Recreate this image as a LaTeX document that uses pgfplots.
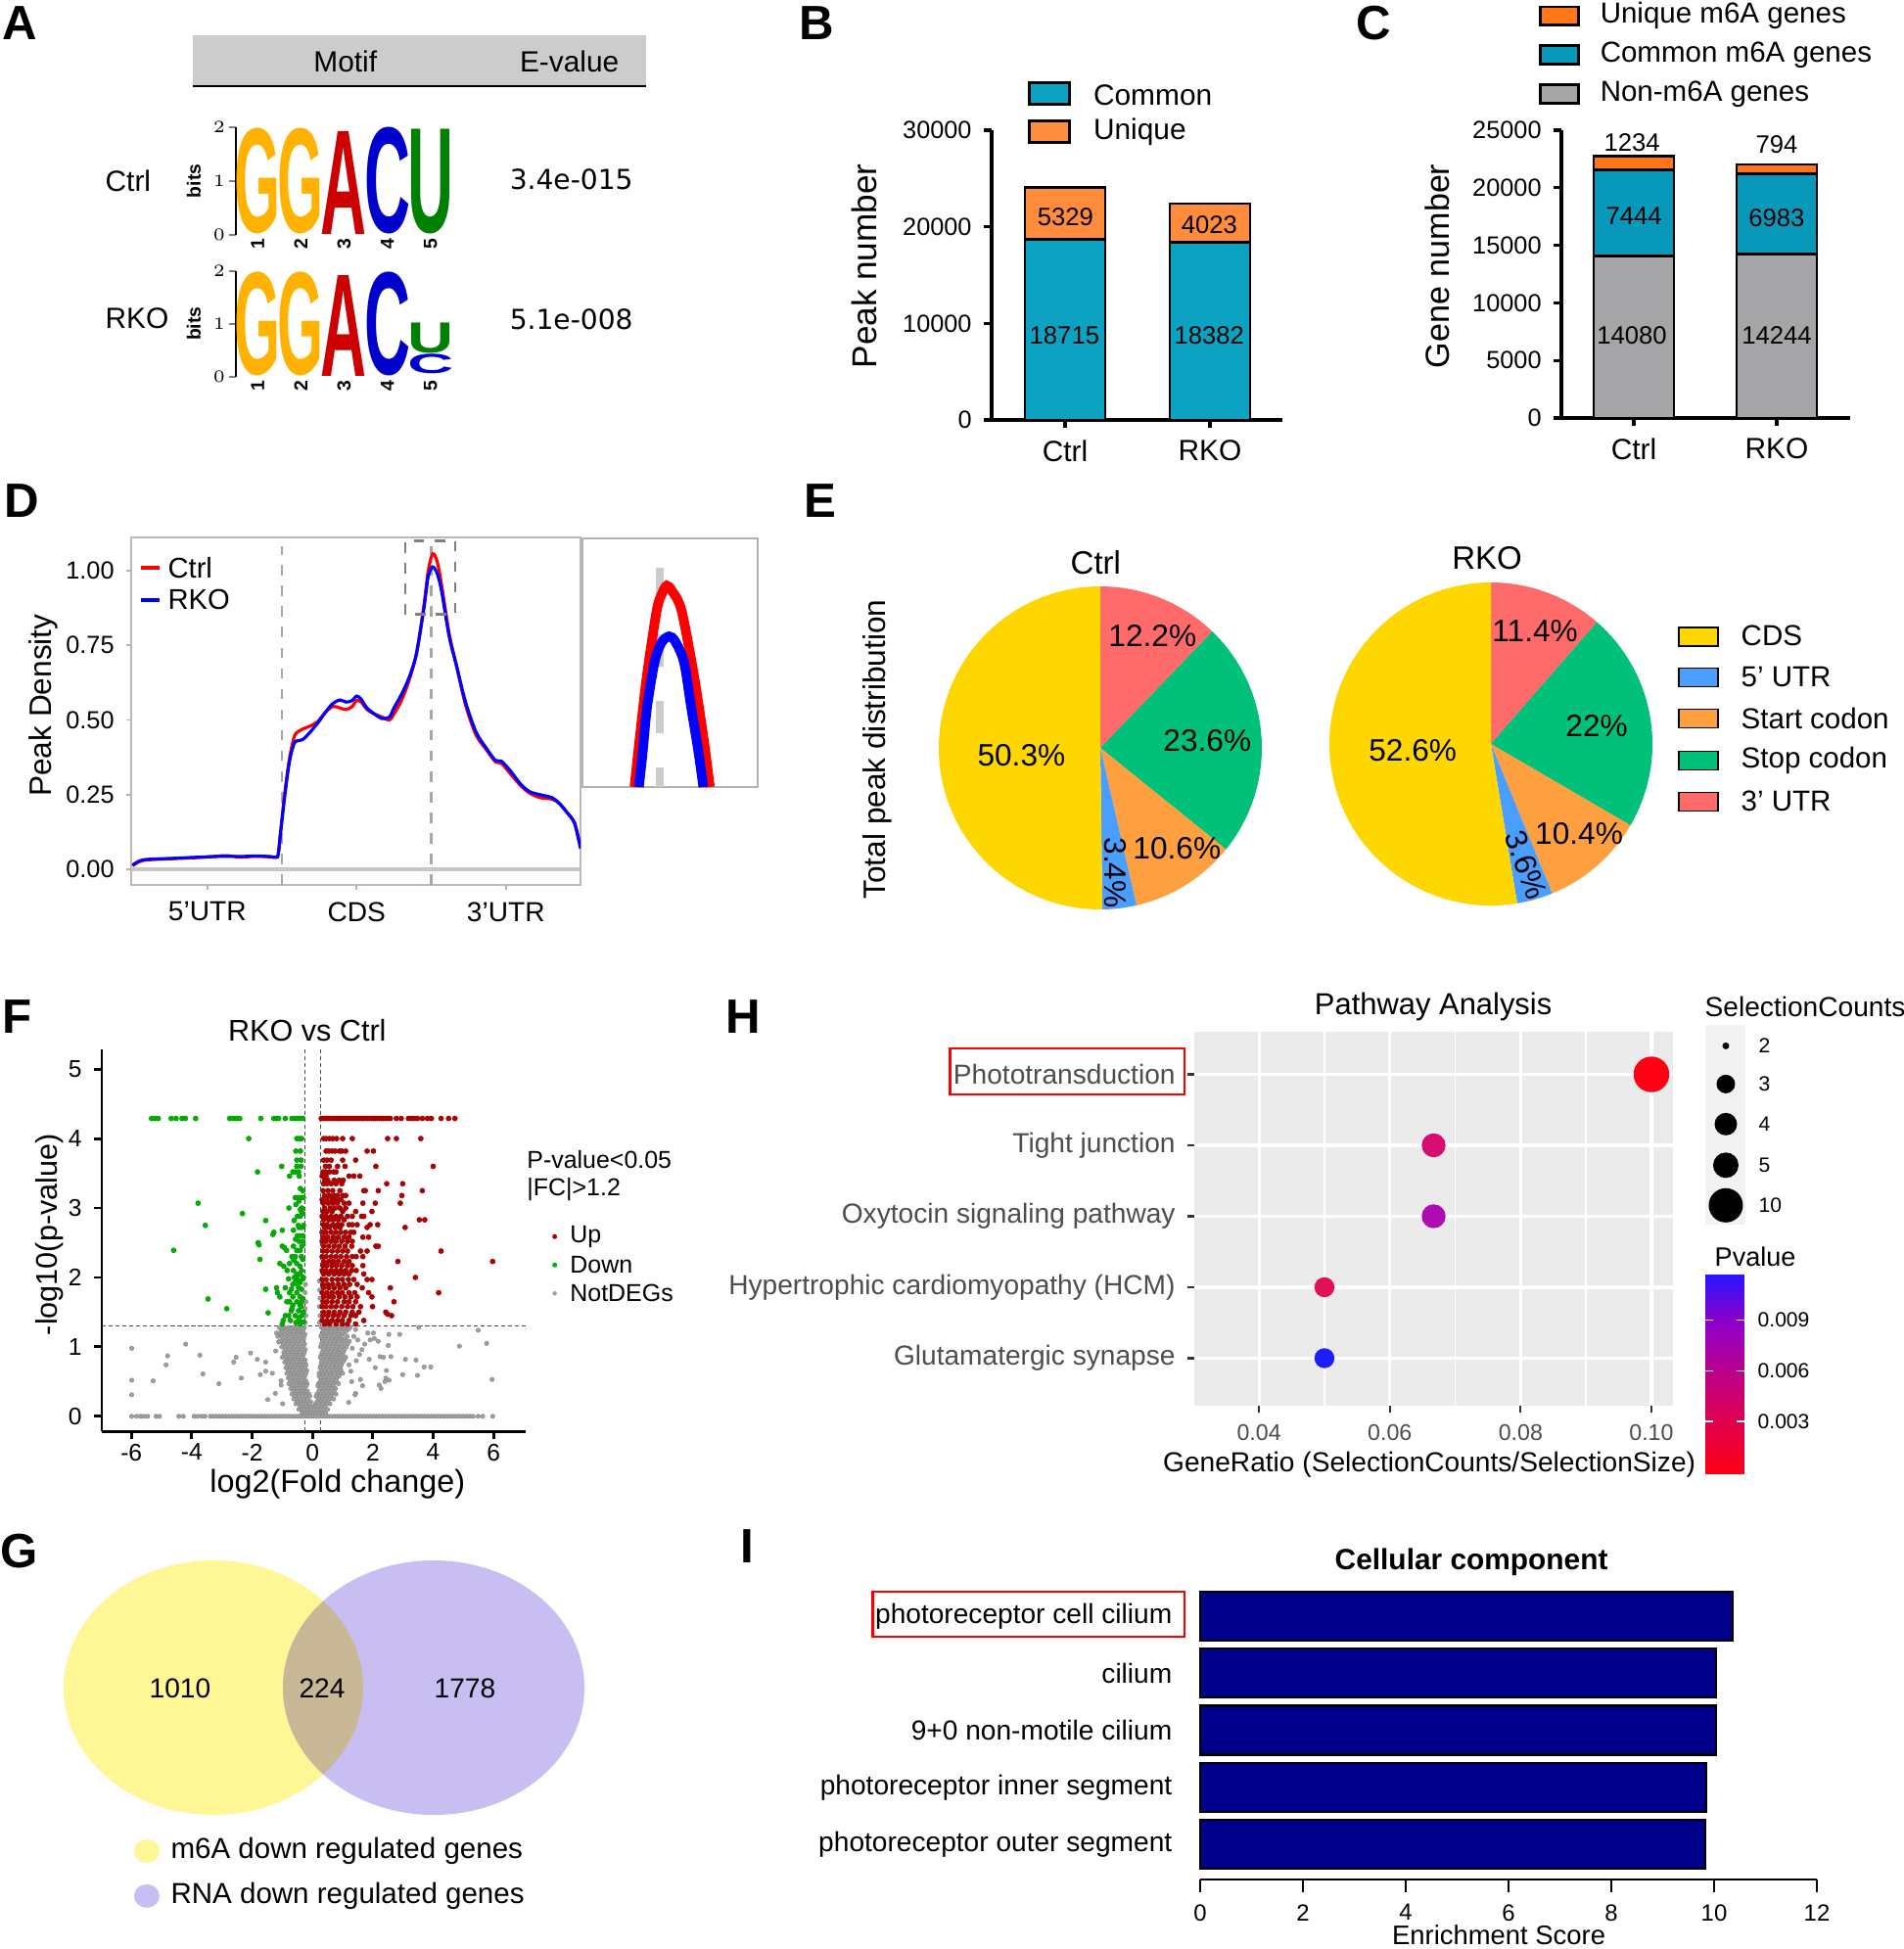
\documentclass[border=0pt]{standalone}
\usepackage{graphicx}
\usepackage{fontspec}
\setmainfont{Liberation Sans}
\newfontfamily\dejavu{DejaVu Sans}
\usepackage{pgfplots}
\pgfplotsset{compat=1.18}
\newcommand{\fs}[1]{\fontsize{#1}{#1}\selectfont}
\definecolor{cB}{RGB}{11,163,193}
\definecolor{uB}{RGB}{255,139,61}
\definecolor{uC}{RGB}{255,117,24}
\definecolor{cC}{RGB}{8,153,186}
\definecolor{nC}{RGB}{165,165,168}
\definecolor{lgG}{RGB}{255,179,0}
\definecolor{lgA}{RGB}{204,0,0}
\definecolor{lgC}{RGB}{0,0,204}
\definecolor{lgU}{RGB}{0,128,0}
\definecolor{pCDS}{RGB}{255,215,0}
\definecolor{pFive}{RGB}{74,158,255}
\definecolor{pStart}{RGB}{255,160,64}
\definecolor{pStop}{RGB}{0,192,122}
\definecolor{pThree}{RGB}{255,107,107}
\definecolor{upc}{RGB}{179,0,0}
\definecolor{dnc}{RGB}{0,179,0}
\definecolor{ngc}{RGB}{160,160,160}
\definecolor{vY}{RGB}{255,246,150}
\definecolor{vP}{RGB}{200,190,242}
\definecolor{vO}{RGB}{200,184,150}
\definecolor{hbg}{RGB}{235,235,235}
\definecolor{navyI}{RGB}{0,0,139}
\definecolor{gthirty}{RGB}{77,77,77}
\definecolor{hPh}{RGB}{255,0,20}
\definecolor{hTi}{RGB}{214,12,112}
\definecolor{hOx}{RGB}{176,10,178}
\definecolor{hHC}{RGB}{226,14,88}
\definecolor{hGl}{RGB}{28,28,255}
\pgfdeclareverticalshading{pvshade}{100bp}{rgb(0bp)=(1,0,0.08); rgb(25bp)=(1,0,0.08); rgb(38bp)=(0.88,0,0.30); rgb(51bp)=(0.73,0,0.55); rgb(63.5bp)=(0.55,0,0.80); rgb(75bp)=(0.16,0.08,1); rgb(100bp)=(0.16,0.08,1)}
\newcommand{\slice}[3]{\fill[#1] (axis cs:0,0) -- (axis cs:{cos(90-3.6*(#2))},{sin(90-3.6*(#2))}) arc[start angle={90-3.6*(#2)}, end angle={90-3.6*(#3)}, radius=1.65cm] -- cycle;}
\newcommand{\lt}[5]{\node[inner sep=0pt, anchor=south] at (axis cs:#1,#2) {\resizebox*{0.47cm}{#3}{\textcolor{#4}{\bfseries #5}}};}
\pgfplotsset{logo/.style={anchor=south west, scale only axis, width=2.21cm, xmin=0.5, xmax=5.5, ymin=0, ymax=2,
  axis y line=left, axis x line=none, axis line style={-, line width=0.5pt}, ytick={0,1,2}, tick align=outside,
  major tick length=0.07cm, tick style={line width=0.5pt}, yticklabel style={font=\fs{5.5pt}\bfseries, inner sep=1pt}, clip=false}}
\begin{document}
\begin{tikzpicture}
\begin{scope}[x=0.01cm,y=-0.01cm]
\fill[white] (0,0) rectangle (1944,1991);
\end{scope}

% ================= A =================
\begin{axis}[logo, at={(2.41cm,-2.40cm)}, height=1.10cm]
\lt{1}{0}{1.08cm}{lgG}{G}
\lt{2}{0}{1.08cm}{lgG}{G}
\lt{3}{0}{1.05cm}{lgA}{A}
\lt{4}{0}{1.09cm}{lgC}{C}
\lt{5}{0}{1.07cm}{lgU}{U}
\pgfplotsinvokeforeach{1,...,5}{\node[rotate=90, anchor=east, font=\fs{5.5pt}\bfseries, inner sep=1pt] at (axis cs:#1,0) {#1};}
\end{axis}
\begin{axis}[logo, at={(2.41cm,-3.85cm)}, height=1.08cm]
\lt{1}{0}{1.06cm}{lgG}{G}
\lt{2}{0}{1.06cm}{lgG}{G}
\lt{3}{0}{1.03cm}{lgA}{A}
\lt{4}{0}{1.06cm}{lgC}{C}
\lt{5}{0.04}{0.20cm}{lgC}{C}
\lt{5}{0.43}{0.31cm}{lgU}{U}
\pgfplotsinvokeforeach{1,...,5}{\node[rotate=90, anchor=east, font=\fs{5.5pt}\bfseries, inner sep=1pt] at (axis cs:#1,0) {#1};}
\end{axis}

% ================= B =================
\begin{axis}[at={(10.13cm,-4.29cm)}, anchor=south west, scale only axis, width=2.97cm, height=2.96cm,
  xmin=-0.507, xmax=1.5, ymin=0, ymax=30000, ybar stacked, bar width=0.82cm,
  axis lines=left, axis line style={-, line width=0.9pt}, xtick={0,1}, xticklabels={Ctrl,RKO},
  ytick={0,10000,20000,30000}, tick align=outside, major tick length=0.08cm, tick style={line width=0.9pt, black},
  scaled y ticks=false, /pgf/number format/1000 sep={}, /pgf/number format/assume math mode=true,
  yticklabel style={font=\fs{7.2pt}}, xticklabel style={font=\fs{8.5pt}}, clip=false]
\addplot[fill=cB, draw=black, line width=0.8pt] coordinates {(0,18715) (1,18382)};
\addplot[fill=uB, draw=black, line width=0.8pt] coordinates {(0,5329) (1,4023)};
\end{axis}

% ================= C =================
\begin{axis}[at={(15.95cm,-4.27cm)}, anchor=south west, scale only axis, width=2.95cm, height=2.94cm,
  xmin=-0.507, xmax=1.514, ymin=0, ymax=25000, ybar stacked, bar width=0.82cm,
  axis lines=left, axis line style={-, line width=0.9pt}, xtick={0,1}, xticklabels={Ctrl,RKO},
  ytick={0,5000,10000,15000,20000,25000}, tick align=outside, major tick length=0.08cm, tick style={line width=0.9pt, black},
  scaled y ticks=false, /pgf/number format/1000 sep={}, /pgf/number format/assume math mode=true,
  yticklabel style={font=\fs{7.2pt}}, xticklabel style={font=\fs{8.5pt}}, clip=false]
\addplot[fill=nC, draw=black, line width=0.8pt] coordinates {(0,14080) (1,14244)};
\addplot[fill=cC, draw=black, line width=0.8pt] coordinates {(0,7444) (1,6983)};
\addplot[fill=uC, draw=black, line width=0.8pt] coordinates {(0,1234) (1,794)};
\end{axis}

% ================= D =================
\begin{axis}[at={(1.34cm,-9.04cm)}, anchor=south west, scale only axis, width=4.59cm, height=3.55cm,
  xmin=-0.01, xmax=3.0, ymin=-0.052, ymax=1.111, axis line style={gray!55, line width=0.6pt},
  xtick={0.5,1.5,2.5}, xticklabels={5’UTR,CDS,3’UTR}, ytick={0,0.25,0.5,0.75,1},
  xtick pos=left, ytick pos=left, tick align=outside, major tick length=0.05cm, tick style={gray!60, line width=0.5pt},
  /pgf/number format/assume math mode=true,
  yticklabel style={font=\fs{7.2pt}, /pgf/number format/fixed, /pgf/number format/fixed zerofill, /pgf/number format/precision=2},
  xticklabel style={font=\fs{8pt}}]
\addplot[gray!45, line width=1pt] coordinates {(-0.01,0) (3.0,0)};
\addplot[gray!70, dashed, line width=0.6pt] coordinates {(1,-0.052) (1,1.08)};
\addplot[gray!70, dashed, line width=0.6pt] coordinates {(2,-0.052) (2,1.08)};
\addplot[red, line width=0.9pt, smooth] coordinates {(0,0.012) (0.07,0.030) (0.27,0.036) (0.45,0.040) (0.62,0.046) (0.72,0.041) (0.82,0.044) (0.92,0.042) (0.96,0.040) (0.975,0.05) (0.99,0.12) (1.02,0.26) (1.05,0.37) (1.08,0.44) (1.10,0.458) (1.14,0.47) (1.19,0.48) (1.24,0.495) (1.29,0.525) (1.34,0.545) (1.39,0.54) (1.43,0.535) (1.47,0.545) (1.50,0.565) (1.53,0.56) (1.57,0.535) (1.62,0.52) (1.67,0.51) (1.72,0.50) (1.75,0.52) (1.80,0.565) (1.85,0.63) (1.90,0.72) (1.95,0.88) (1.98,1.00) (2.01,1.056) (2.04,1.03) (2.07,0.95) (2.12,0.79) (2.17,0.68) (2.23,0.55) (2.30,0.45) (2.37,0.40) (2.43,0.36) (2.47,0.355) (2.53,0.32) (2.60,0.28) (2.66,0.255) (2.73,0.24) (2.81,0.235) (2.86,0.22) (2.91,0.19) (2.96,0.155) (3.0,0.075)};
\addplot[blue, line width=0.9pt, smooth] coordinates {(0,0.014) (0.07,0.032) (0.27,0.037) (0.45,0.041) (0.62,0.044) (0.72,0.043) (0.82,0.045) (0.92,0.043) (0.96,0.041) (0.975,0.05) (0.99,0.12) (1.02,0.25) (1.05,0.36) (1.08,0.42) (1.10,0.43) (1.14,0.435) (1.19,0.46) (1.24,0.49) (1.29,0.525) (1.34,0.555) (1.39,0.567) (1.43,0.56) (1.47,0.565) (1.50,0.58) (1.53,0.57) (1.57,0.54) (1.62,0.52) (1.67,0.505) (1.72,0.51) (1.75,0.54) (1.80,0.585) (1.85,0.64) (1.90,0.72) (1.95,0.87) (1.98,0.98) (2.01,1.012) (2.04,0.99) (2.07,0.93) (2.12,0.78) (2.17,0.68) (2.23,0.56) (2.30,0.46) (2.37,0.405) (2.43,0.365) (2.47,0.362) (2.53,0.33) (2.60,0.285) (2.66,0.26) (2.73,0.25) (2.81,0.24) (2.86,0.22) (2.91,0.19) (2.96,0.155) (3.0,0.07)};
\draw[gray, dashed, line width=0.8pt] (axis cs:1.826,0.853) rectangle (axis cs:2.16,1.10);
\end{axis}
% inset
\begin{axis}[at={(5.95cm,-8.04cm)}, anchor=south west, scale only axis, width=1.79cm, height=2.54cm,
  xmin=0, xmax=1, ymin=0, ymax=1, axis line style={gray!60, line width=0.7pt}, ticks=none]
\addplot[gray!40, line width=2.5pt, dash pattern=on 0.33cm off 0.35cm] coordinates {(0.441,0.88) (0.441,0)};
\addplot[red, line width=2.8pt, smooth] coordinates {(0.297,0) (0.325,0.186) (0.368,0.449) (0.424,0.711) (0.455,0.78) (0.481,0.81) (0.51,0.79) (0.565,0.711) (0.636,0.449) (0.693,0.186) (0.727,0)};
\addplot[blue, line width=2.8pt, smooth] coordinates {(0.322,0) (0.345,0.15) (0.368,0.318) (0.411,0.501) (0.45,0.58) (0.494,0.606) (0.53,0.585) (0.580,0.501) (0.621,0.318) (0.66,0.15) (0.690,0)};
\end{axis}

% ================= E =================
\begin{axis}[at={(9.59cm,-9.29cm)}, anchor=south west, scale only axis, width=3.30cm, height=3.30cm,
  xmin=-1, xmax=1, ymin=-1, ymax=1, hide axis, clip=false]
\slice{pThree}{0}{12.2}
\slice{pStop}{12.2}{12.2+23.6}
\slice{pStart}{12.2+23.6}{12.2+23.6+10.6}
\slice{pFive}{12.2+23.6+10.6}{12.2+23.6+10.6+3.4}
\slice{pCDS}{12.2+23.6+10.6+3.4}{100}
\end{axis}
\begin{axis}[at={(13.58cm,-9.25cm)}, anchor=south west, scale only axis, width=3.30cm, height=3.30cm,
  xmin=-1, xmax=1, ymin=-1, ymax=1, hide axis, clip=false]
\slice{pThree}{0}{11.4}
\slice{pStop}{11.4}{11.4+22}
\slice{pStart}{11.4+22}{11.4+22+10.4}
\slice{pFive}{11.4+22+10.4}{11.4+22+10.4+3.6}
\slice{pCDS}{11.4+22+10.4+3.6}{100}
\end{axis}

% ================= F =================
\begin{axis}[at={(1.04cm,-14.624cm)}, anchor=south west, scale only axis, width=4.335cm, height=3.908cm,
  xmin=-6.98, xmax=7.08, ymin=-0.22, ymax=5.29, axis lines=left, axis line style={-, line width=0.8pt},
  xtick={-6,-4,-2,0,2,4,6}, ytick={0,1,2,3,4,5}, tick align=outside, major tick length=0.08cm,
  tick style={line width=0.8pt, black}, /pgf/number format/assume math mode=true,
  ticklabel style={font=\fs{7pt}}, xticklabel style={yshift=0.08cm}]
\addplot[only marks, mark=*, mark size=0.62pt, mark options={fill=ngc, draw=ngc!85!black, line width=0.15pt}] coordinates {
(-5.99,0.98) (-5.99,0.52) (-5.99,0.31) (-5.28,0.51) (-4.85,0.74) (-4.80,0.87) (-4.20,1.04) (-3.73,0.88) (-3.63,0.61) (-3.10,0.47) (-2.61,0.78) (-2.53,0.85) (-2.36,0.55) (-2.05,0.91) (-1.83,0.82) (-1.73,0.60) (-1.55,0.65) (-1.55,0.78) (-1.48,0.24) (-1.33,0.62) (-1.23,0.33) (-1.22,0.94) (-1.19,1.20) (-1.12,1.07) (-1.04,0.51) (-1.04,0.45) (-0.99,0.18)
(-1.10,1.28) (-0.95,1.28) (-0.80,1.28) (-0.65,1.28) (-0.50,1.28) (-0.38,1.28) (-0.27,1.28)
(-1.02,1.25) (-0.87,1.25) (-0.72,1.25) (-0.57,1.25) (-0.44,1.25) (-0.31,1.25)
(-1.05,1.22) (-0.90,1.22) (-0.75,1.22) (-0.60,1.22) (-0.45,1.22) (-0.32,1.22)
(-1.08,1.18) (-0.93,1.18) (-0.78,1.18) (-0.63,1.18) (-0.48,1.18) (-0.34,1.18) (-0.25,1.18)
(-1.15,1.15) (-1.00,1.15) (-0.85,1.15) (-0.70,1.15) (-0.55,1.15) (-0.40,1.15) (-0.28,1.15)
(-1.00,1.11) (-0.85,1.11) (-0.70,1.11) (-0.56,1.11) (-0.42,1.11) (-0.29,1.11)
(-1.08,1.08) (-0.93,1.08) (-0.78,1.08) (-0.63,1.08) (-0.48,1.08) (-0.35,1.08)
(-0.97,1.04) (-0.82,1.04) (-0.67,1.04) (-0.52,1.04) (-0.38,1.04) (-0.26,1.04)
(-1.02,1.00) (-0.88,1.00) (-0.73,1.00) (-0.58,1.00) (-0.43,1.00) (-0.30,1.00)
(-0.91,0.96) (-0.77,0.96) (-0.63,0.96) (-0.49,0.96) (-0.35,0.96) (-0.24,0.96)
(-0.95,0.92) (-0.82,0.92) (-0.68,0.92) (-0.53,0.92) (-0.40,0.92) (-0.27,0.92)
(-0.93,0.88) (-0.80,0.88) (-0.66,0.88) (-0.53,0.88) (-0.41,0.88) (-0.30,0.88)
(-1.00,0.85) (-0.87,0.85) (-0.74,0.85) (-0.60,0.85) (-0.47,0.85) (-0.34,0.85)
(-0.86,0.81) (-0.73,0.81) (-0.60,0.81) (-0.47,0.81) (-0.35,0.81) (-0.24,0.81)
(-0.92,0.78) (-0.80,0.78) (-0.66,0.78) (-0.53,0.78) (-0.40,0.78) (-0.27,0.78)
(-0.82,0.74) (-0.69,0.74) (-0.56,0.74) (-0.43,0.74) (-0.31,0.74) (-0.21,0.74)
(-0.88,0.70) (-0.75,0.70) (-0.62,0.70) (-0.49,0.70) (-0.36,0.70) (-0.25,0.70)
(-0.79,0.66) (-0.66,0.66) (-0.53,0.66) (-0.40,0.66) (-0.28,0.66) (-0.19,0.66)
(-0.85,0.62) (-0.72,0.62) (-0.59,0.62) (-0.46,0.62) (-0.33,0.62) (-0.22,0.62)
(-0.75,0.58) (-0.62,0.58) (-0.49,0.58) (-0.36,0.58) (-0.25,0.58)
(-0.80,0.55) (-0.68,0.55) (-0.55,0.55) (-0.42,0.55) (-0.30,0.55)
(-0.72,0.51) (-0.59,0.51) (-0.46,0.51) (-0.34,0.51) (-0.22,0.51)
(-0.78,0.47) (-0.65,0.47) (-0.52,0.47) (-0.40,0.47) (-0.28,0.47) (-0.18,0.47)
(-0.67,0.44) (-0.54,0.44) (-0.42,0.44) (-0.30,0.44) (-0.20,0.44)
(-0.72,0.40) (-0.60,0.40) (-0.48,0.40) (-0.36,0.40) (-0.25,0.40)
(-0.63,0.36) (-0.50,0.36) (-0.38,0.36) (-0.27,0.36) (-0.17,0.36)
(-0.68,0.32) (-0.56,0.32) (-0.44,0.32) (-0.32,0.32) (-0.22,0.32) (-0.12,0.32)
(-0.57,0.29) (-0.45,0.29) (-0.33,0.29) (-0.20,0.29) (-0.09,0.29)
(-0.62,0.25) (-0.50,0.25) (-0.38,0.25) (-0.27,0.25) (-0.16,0.25)
(-0.50,0.21) (-0.39,0.21) (-0.28,0.21) (-0.16,0.21) (-0.06,0.21)
(-0.55,0.18) (-0.44,0.18) (-0.33,0.18) (-0.22,0.18) (-0.10,0.18)
(-0.40,0.14) (-0.30,0.14) (-0.19,0.14) (-0.08,0.14) (0.02,0.14)
(-0.45,0.10) (-0.35,0.10) (-0.25,0.10) (-0.15,0.10) (-0.05,0.10)
(-0.35,0.04) (-0.25,0.04) (-0.15,0.04) (-0.06,0.04) (0.03,0.04)
(-0.24,1.35) (-0.22,1.45) (-0.24,1.55) (-0.22,1.65) (-0.24,1.78) (-0.23,1.90)
(0.30,1.28) (0.42,1.28) (0.55,1.28) (0.68,1.28) (0.82,1.28) (0.96,1.28) (1.10,1.28) (1.25,1.28)
(0.36,1.25) (0.49,1.25) (0.62,1.25) (0.76,1.25) (0.90,1.25) (1.04,1.25) (1.18,1.25)
(0.35,1.22) (0.48,1.22) (0.62,1.22) (0.75,1.22) (0.90,1.22) (1.10,1.22)
(0.31,1.18) (0.44,1.18) (0.57,1.18) (0.71,1.18) (0.85,1.18) (1.00,1.18)
(0.28,1.15) (0.40,1.15) (0.53,1.15) (0.66,1.15) (0.80,1.15) (0.95,1.15) (1.15,1.15)
(0.38,1.11) (0.51,1.11) (0.64,1.11) (0.78,1.11) (0.92,1.11) (1.08,1.11)
(0.33,1.08) (0.46,1.08) (0.60,1.08) (0.73,1.08) (0.88,1.08) (1.05,1.08) (1.22,1.08)
(0.30,1.04) (0.43,1.04) (0.56,1.04) (0.70,1.04) (0.84,1.04) (1.00,1.04) (1.16,1.04)
(0.27,1.00) (0.40,1.00) (0.53,1.00) (0.66,1.00) (0.80,1.00) (0.95,1.00) (1.12,1.00)
(0.36,0.96) (0.49,0.96) (0.62,0.96) (0.76,0.96) (0.90,0.96) (1.06,0.96)
(0.32,0.92) (0.45,0.92) (0.58,0.92) (0.72,0.92) (0.86,0.92) (1.02,0.92)
(0.29,0.88) (0.42,0.88) (0.55,0.88) (0.68,0.88) (0.82,0.88) (0.97,0.88)
(0.26,0.85) (0.38,0.85) (0.51,0.85) (0.64,0.85) (0.78,0.85) (0.93,0.85) (1.10,0.85)
(0.34,0.81) (0.47,0.81) (0.60,0.81) (0.74,0.81) (0.88,0.81) (1.05,0.81)
(0.30,0.78) (0.43,0.78) (0.56,0.78) (0.70,0.78) (0.84,0.78) (1.00,0.78)
(0.28,0.74) (0.40,0.74) (0.53,0.74) (0.66,0.74) (0.80,0.74) (0.95,0.74)
(0.25,0.70) (0.37,0.70) (0.50,0.70) (0.63,0.70) (0.77,0.70) (0.92,0.70)
(0.30,0.66) (0.42,0.66) (0.55,0.66) (0.68,0.66) (0.82,0.66) (0.94,0.66)
(0.22,0.62) (0.34,0.62) (0.46,0.62) (0.59,0.62) (0.72,0.62) (0.86,0.62) (1.00,0.62)
(0.22,0.58) (0.34,0.58) (0.46,0.58) (0.60,0.58) (0.73,0.58) (0.88,0.58)
(0.28,0.55) (0.40,0.55) (0.53,0.55) (0.66,0.55) (0.80,0.55)
(0.26,0.51) (0.38,0.51) (0.51,0.51) (0.64,0.51) (0.78,0.51)
(0.20,0.47) (0.32,0.47) (0.45,0.47) (0.58,0.47) (0.72,0.47) (0.86,0.47)
(0.18,0.44) (0.30,0.44) (0.42,0.44) (0.55,0.44) (0.68,0.44)
(0.25,0.40) (0.37,0.40) (0.50,0.40) (0.63,0.40) (0.76,0.40)
(0.21,0.36) (0.33,0.36) (0.45,0.36) (0.58,0.36) (0.71,0.36)
(0.15,0.32) (0.27,0.32) (0.39,0.32) (0.52,0.32) (0.65,0.32) (0.78,0.32)
(0.12,0.29) (0.24,0.29) (0.36,0.29) (0.48,0.29) (0.61,0.29)
(0.20,0.25) (0.32,0.25) (0.44,0.25) (0.57,0.25) (0.70,0.25)
(0.15,0.21) (0.27,0.21) (0.39,0.21) (0.51,0.21)
(0.10,0.18) (0.22,0.18) (0.34,0.18) (0.46,0.18) (0.58,0.18)
(0.08,0.14) (0.19,0.14) (0.30,0.14) (0.42,0.14)
(0.06,0.10) (0.16,0.10) (0.27,0.10) (0.38,0.10) (0.50,0.10)
(0.12,0.04) (0.22,0.04) (0.33,0.04) (0.44,0.04)
(0.23,1.35) (0.25,1.45) (0.23,1.58) (0.25,1.70) (0.24,1.82) (0.23,1.95)
(3.52,1.28) (5.49,1.24) (4.87,1.01) (5.77,1.05) (5.95,0.53) (1.83,1.20) (2.02,1.20) (2.05,1.12) (1.91,1.10) (2.18,1.08) (2.53,1.18) (2.89,1.18) (2.51,1.02) (1.73,1.04) (1.64,0.96) (1.56,0.89) (1.88,0.82) (2.24,0.86) (2.35,0.85) (2.60,0.86) (3.08,0.82) (3.43,0.81) (3.70,0.71) (3.92,0.71) (2.08,0.70) (2.45,0.66) (2.99,0.60) (3.48,0.59) (2.43,0.55) (2.54,0.52) (2.40,0.50) (2.21,0.45) (2.27,0.40) (1.66,0.44) (1.43,0.33) (1.41,0.31) (1.27,0.65) (1.21,0.74) (1.32,0.98) (1.37,1.15) (1.43,1.25) (1.10,1.22) (1.59,0.53) (1.50,1.10) (1.45,0.80) (1.30,0.50) (1.20,0.20)
(-5.99,0) (-5.83,0) (-5.70,0) (-5.59,0) (-5.46,0) (-5.18,0) (-5.07,0) (-4.43,0) (-4.28,0) (-3.92,0) (-3.81,0) (-3.67,0) (-3.56,0) (-3.38,0)
(-3.28,0) (-3.18,0) (-3.08,0) (-2.98,0) (-2.88,0) (-2.78,0) (-2.68,0) (-2.58,0) (-2.48,0) (-2.38,0) (-2.28,0) (-2.18,0) (-2.08,0) (-1.98,0) (-1.88,0) (-1.78,0) (-1.68,0) (-1.58,0) (-1.48,0) (-1.38,0) (-1.28,0) (-1.18,0) (-1.08,0) (-0.98,0) (-0.88,0) (-0.78,0) (-0.68,0) (-0.58,0) (-0.48,0) (-0.38,0) (-0.28,0) (-0.18,0) (-0.08,0) (0.02,0) (0.12,0) (0.22,0) (0.32,0) (0.42,0) (0.52,0) (0.62,0) (0.72,0) (0.82,0) (0.92,0) (1.02,0) (1.12,0) (1.22,0) (1.32,0) (1.42,0) (1.52,0) (1.62,0) (1.72,0) (1.82,0) (1.92,0) (2.02,0) (2.12,0) (2.22,0) (2.32,0) (2.42,0) (2.52,0) (2.62,0) (2.72,0) (2.82,0) (2.92,0) (3.02,0) (3.12,0) (3.22,0) (3.32,0) (3.42,0) (3.52,0) (3.62,0) (3.72,0) (3.82,0) (3.92,0) (4.02,0) (4.12,0) (4.22,0) (4.32,0) (4.42,0) (4.52,0) (4.62,0) (4.72,0) (4.82,0) (4.92,0) (5.02,0) (5.12,0) (5.22,0) (5.32,0) (5.49,0) (5.64,0) (5.97,0)
};
\addplot[only marks, mark=*, mark size=0.72pt, mark options={fill=upc, draw=upc!85!black, line width=0.15pt}] coordinates {
(0.29,4.29) (0.35,4.29) (0.42,4.29) (0.48,4.29) (0.55,4.29) (0.62,4.29) (0.68,4.29) (0.75,4.29) (0.82,4.29) (0.88,4.29) (0.95,4.29) (1.02,4.29) (1.08,4.29) (1.15,4.29) (1.22,4.29) (1.28,4.29) (1.35,4.29) (1.42,4.29) (1.48,4.29) (1.55,4.29) (1.62,4.29) (1.68,4.29) (1.75,4.29) (1.82,4.29) (1.88,4.29) (1.95,4.29) (2.02,4.29) (2.08,4.29) (2.15,4.29) (2.22,4.29) (2.28,4.29) (2.35,4.29) (2.42,4.29) (2.50,4.29) (2.58,4.29) (2.78,4.29) (2.94,4.29) (3.18,4.29) (3.27,4.29) (3.37,4.29) (3.48,4.29) (3.64,4.29) (3.81,4.29) (3.94,4.29) (4.26,4.29) (4.51,4.29) (4.72,4.29)
(0.37,4.0) (0.45,4.0) (0.56,4.0) (0.67,4.0) (0.80,4.0) (1.00,4.0) (1.32,4.0) (2.49,4.0) (2.78,4.0) (3.59,4.0)
(0.45,3.82) (0.54,3.82) (0.65,3.82) (0.75,3.82) (0.89,3.82) (0.97,3.82) (1.10,3.82) (1.81,3.82) (2.02,3.82)
(0.37,3.69) (0.48,3.69) (0.62,3.69) (1.00,3.69) (1.43,3.69)
(0.43,3.60) (0.56,3.60) (0.83,3.60) (1.08,3.60) (2.10,3.60) (4.00,3.60)
(0.35,3.52) (0.43,3.52) (0.56,3.52) (0.69,3.52) (0.78,3.52)
(0.32,3.46) (0.45,3.46) (1.21,3.46) (1.37,3.46) (1.57,3.46)
(0.40,3.40) (0.51,3.40) (0.72,3.40) (0.89,3.40) (1.02,3.40)
(0.37,3.35) (0.48,3.35) (0.62,3.35) (0.78,3.35) (0.97,3.35) (2.46,3.35) (2.99,3.35)
(0.35,3.25) (0.51,3.25) (0.67,3.25) (0.91,3.25) (1.70,3.25) (1.75,3.25) (2.18,3.25) (3.64,3.25)
(0.40,3.18) (0.56,3.18) (0.72,3.18) (0.83,3.18) (1.00,3.18) (1.10,3.18) (2.96,3.18)
(0.32,3.12) (0.48,3.12) (0.65,3.12) (0.78,3.12) (0.94,3.12)
(0.35,3.07) (0.51,3.07) (0.67,3.07) (0.83,3.07) (1.05,3.07) (1.21,3.07) (1.67,3.07) (2.08,3.07) (2.91,3.07)
(0.40,3.0) (0.59,3.0) (0.75,3.0) (0.91,3.0) (1.10,3.0)
(0.35,2.95) (0.48,2.95) (0.65,2.95) (1.00,2.95) (1.43,2.95) (1.97,2.95)
(0.32,2.88) (0.45,2.88) (0.62,2.88) (0.78,2.88) (0.94,2.88) (1.16,2.88) (1.32,2.88) (1.63,2.88) (1.70,2.88)
(0.37,2.83) (0.54,2.83) (0.69,2.83) (0.86,2.83) (1.05,2.83) (3.54,2.83) (3.72,2.83)
(0.35,2.76) (0.48,2.76) (0.67,2.76) (0.83,2.76) (0.97,2.76) (1.21,2.76) (1.32,2.76) (1.48,2.76) (1.91,2.76) (2.16,2.76)
(0.40,2.72) (0.56,2.72) (0.75,2.72) (0.91,2.72) (1.81,2.72) (3.07,2.72)
(0.32,2.65) (0.45,2.65) (0.62,2.65) (0.78,2.65) (0.94,2.65) (1.10,2.65) (1.27,2.65) (1.37,2.65)
(0.37,2.58) (0.51,2.58) (0.69,2.58) (0.86,2.58) (1.05,2.58) (1.21,2.58) (1.67,2.58) (1.86,2.58)
(0.32,2.52) (0.45,2.52) (0.62,2.52) (0.78,2.52) (0.97,2.52) (1.16,2.52) (1.32,2.52)
(0.37,2.45) (0.54,2.45) (0.72,2.45) (0.89,2.45) (1.08,2.45) (1.30,2.45) (2.10,2.45) (2.18,2.45)
(0.35,2.38) (0.48,2.38) (0.65,2.38) (0.83,2.38) (1.00,2.38) (1.16,2.38) (1.59,2.38) (1.81,2.38) (4.26,2.38)
(0.32,2.30) (0.45,2.30) (0.62,2.30) (0.78,2.30) (0.94,2.30) (1.13,2.30) (1.32,2.30) (1.45,2.30) (1.67,2.30)
(0.37,2.23) (0.54,2.23) (0.69,2.23) (0.86,2.23) (1.05,2.23) (1.21,2.23) (2.83,2.23) (5.97,2.23)
(0.35,2.17) (0.48,2.17) (0.65,2.17) (0.80,2.17) (0.97,2.17) (1.16,2.17) (1.32,2.17) (1.67,2.17)
(0.32,2.10) (0.45,2.10) (0.62,2.10) (0.78,2.10) (0.94,2.10) (1.10,2.10) (1.30,2.10) (1.45,2.10)
(0.37,2.05) (0.54,2.05) (0.72,2.05) (0.89,2.05) (1.05,2.05) (1.21,2.05) (1.70,2.05)
(3.41,2.00)
(0.32,1.97) (0.45,1.97) (0.65,1.97) (0.83,1.97) (0.99,1.97) (1.19,1.97) (1.37,1.97) (1.81,1.97) (1.97,1.97)
(0.35,1.90) (0.51,1.90) (0.67,1.90) (0.86,1.90) (1.05,1.90) (1.23,1.90) (1.48,1.90)
(0.37,1.85) (0.54,1.85) (0.72,1.85) (0.91,1.85) (1.10,1.85) (1.65,1.85) (2.58,1.85)
(0.32,1.78) (0.48,1.78) (0.65,1.78) (0.83,1.78) (0.99,1.78) (1.21,1.78) (1.40,1.78) (1.86,1.78) (4.18,1.78)
(0.37,1.72) (0.54,1.72) (0.69,1.72) (0.89,1.72) (1.08,1.72) (1.27,1.72) (1.48,1.72) (1.97,1.72)
(0.35,1.65) (0.48,1.65) (0.65,1.65) (0.83,1.65) (1.05,1.65) (1.21,1.65) (1.43,1.65) (2.70,1.65)
(0.32,1.58) (0.45,1.58) (0.62,1.58) (0.78,1.58) (0.97,1.58) (1.16,1.58) (1.34,1.58) (1.59,1.58) (1.99,1.58)
(0.37,1.50) (0.54,1.50) (0.72,1.50) (0.91,1.50) (1.10,1.50) (1.32,1.50) (1.54,1.50) (2.43,1.50) (2.49,1.47)
(0.35,1.45) (0.51,1.45) (0.69,1.45) (0.86,1.45) (1.05,1.45) (1.27,1.45) (1.43,1.45) (2.62,1.45)
(0.32,1.38) (0.48,1.38) (0.65,1.38) (0.83,1.38) (0.99,1.38) (1.21,1.38) (1.70,1.38)
(0.40,1.33) (0.56,1.33) (0.78,1.33) (0.99,1.33) (1.16,1.33) (1.43,1.33)
};
\addplot[only marks, mark=*, mark size=0.72pt, mark options={fill=dnc, draw=dnc!85!black, line width=0.15pt}] coordinates {
(-5.33,4.29) (-5.22,4.29) (-5.11,4.29) (-4.68,4.29) (-4.52,4.29) (-4.32,4.29) (-4.21,4.29) (-3.87,4.29) (-2.74,4.29) (-2.63,4.29) (-2.52,4.29) (-2.41,4.29) (-1.71,4.29) (-1.28,4.29) (-1.19,4.29) (-1.12,4.29) (-0.90,4.29) (-0.68,4.29) (-0.57,4.29) (-0.50,4.29) (-0.41,4.29) (-0.32,4.29)
(-2.11,4.0) (-0.52,4.0) (-0.44,4.0) (-0.36,4.0)
(-0.55,3.82) (-0.40,3.82) (-0.52,3.69) (-0.38,3.69)
(-1.02,3.60) (-0.52,3.60) (-0.38,3.60)
(-1.82,3.52) (-0.65,3.52) (-0.57,3.52) (-0.46,3.52)
(-0.76,3.46) (-0.44,3.46) (-0.32,3.25) (-0.40,3.28)
(-0.57,3.15) (-0.46,3.15) (-0.35,3.15) (-3.79,3.07)
(-0.78,3.0) (-0.35,3.0) (-2.32,2.92) (-0.32,2.92)
(-0.50,2.88) (-0.41,2.88) (-1.55,2.82) (-0.61,2.82)
(-3.55,2.75) (-0.44,2.72) (-0.35,2.72) (-1.00,2.68) (-0.63,2.68)
(-1.28,2.65) (-1.31,2.62) (-0.50,2.6) (-0.41,2.6) (-0.32,2.6)
(-1.80,2.5) (-1.77,2.47) (-0.44,2.52) (-0.32,2.52)
(-1.00,2.45) (-0.93,2.43) (-0.63,2.45)
(-4.60,2.39) (-0.86,2.39) (-0.52,2.39) (-0.41,2.39)
(-0.68,2.3) (-0.57,2.3) (-1.74,2.26) (-0.32,2.26)
(-1.08,2.2) (-0.76,2.2) (-0.52,2.2) (-0.95,2.16) (-0.41,2.16)
(-0.84,2.1) (-0.63,2.1) (-0.36,2.1) (-0.52,2.05) (-0.41,2.05)
(-0.79,1.98) (-0.50,1.98) (-0.32,1.98) (-0.57,1.93) (-0.41,1.93)
(-1.19,1.85) (-0.90,1.85) (-0.46,1.85) (-1.55,1.83) (-0.70,1.83) (-0.36,1.83)
(-1.16,1.78) (-0.76,1.78) (-0.52,1.78) (-1.08,1.72) (-0.65,1.72) (-0.41,1.72)
(-3.46,1.69) (-0.76,1.65) (-0.52,1.65) (-0.36,1.65) (-0.65,1.6) (-0.41,1.6)
(-2.84,1.55) (-0.70,1.52) (-0.46,1.52) (-1.47,1.49)
(-0.90,1.45) (-0.79,1.45) (-0.57,1.45) (-0.35,1.45)
(-0.97,1.38) (-0.73,1.38) (-0.46,1.38) (-1.00,1.33) (-0.41,1.33)
(-0.30,1.5) (-0.33,1.7) (-0.30,2.0) (-0.37,2.3) (-0.30,2.75) (-0.36,2.95) (-0.45,3.1) (-0.30,3.15) (-0.56,2.55) (-0.60,2.0) (-0.65,1.9) (-0.62,2.25) (-0.68,1.55) (-0.85,1.65) (-0.45,1.42) (-0.55,1.35) (-0.30,1.36) (-0.38,1.58) (-0.48,1.9) (-0.35,2.45) (-0.47,2.75) (-0.40,2.98) (-0.55,3.05)
};
\addplot[black!70, line width=0.3pt, dash pattern=on 1.2pt off 0.8pt] coordinates {(-0.263,-0.22) (-0.263,5.29)};
\addplot[black!70, line width=0.3pt, dash pattern=on 1.2pt off 0.8pt] coordinates {(0.263,-0.22) (0.263,5.29)};
\addplot[black!70, line width=0.3pt, dash pattern=on 1.2pt off 0.8pt] coordinates {(-6.98,1.301) (7.08,1.301)};
\end{axis}

% ================= G =================
\begin{axis}[at={(0.64cm,-18.54cm)}, anchor=south west, scale only axis, width=5.33cm, height=2.60cm,
  xmin=0, xmax=533, ymin=0, ymax=260, hide axis, clip=false]
\fill[vY] (axis cs:154,130) ellipse[x radius=1.53cm, y radius=1.30cm];
\fill[vP] (axis cs:379,130) ellipse[x radius=1.54cm, y radius=1.30cm];
\begin{scope}
\clip (axis cs:154,130) ellipse[x radius=1.53cm, y radius=1.30cm];
\fill[vO] (axis cs:379,130) ellipse[x radius=1.54cm, y radius=1.30cm];
\end{scope}
\node[font=\fs{8pt}] at (axis cs:120,129) {1010};
\node[font=\fs{8pt}] at (axis cs:265,129) {224};
\node[font=\fs{8pt}] at (axis cs:411,129) {1778};
\end{axis}

% ================= H =================
\begin{axis}[at={(12.20cm,-14.36cm)}, anchor=south west, scale only axis, width=4.89cm, height=3.82cm,
  xmin=0.0301, xmax=0.1033, ymin=0.33, ymax=5.6, axis background/.style={fill=hbg}, axis line style={draw=none},
  xtick={0.04,0.06,0.08,0.10}, minor xtick={0.05,0.07,0.09}, ytick={1,2,3,4,5},
  yticklabels={Glutamatergic synapse,Hypertrophic cardiomyopathy (HCM),Oxytocin signaling pathway,Tight junction,Phototransduction},
  grid=both, major grid style={white, line width=0.9pt}, minor grid style={white, line width=0.45pt},
  xtick pos=left, ytick pos=left, tick align=outside, major tick length=0.07cm, minor tick length=0pt,
  tick style={black!80, line width=0.6pt}, /pgf/number format/assume math mode=true,
  xticklabel style={font=\fs{6.6pt}, text=gthirty, /pgf/number format/fixed, /pgf/number format/fixed zerofill, /pgf/number format/precision=2},
  yticklabel style={font=\fs{8pt}, text=gthirty}, clip=false]
\addplot[only marks, mark=*, color=hPh, mark size=4.98pt] coordinates {(0.1,5)};
\addplot[only marks, mark=*, color=hTi, mark size=3.27pt] coordinates {(0.0667,4)};
\addplot[only marks, mark=*, color=hOx, mark size=3.27pt] coordinates {(0.0667,3)};
\addplot[only marks, mark=*, color=hHC, mark size=2.7pt] coordinates {(0.05,2)};
\addplot[only marks, mark=*, color=hGl, mark size=2.7pt] coordinates {(0.05,1)};
\end{axis}

% ================= I =================
\begin{axis}[at={(12.26cm,-19.20cm)}, anchor=south west, scale only axis, width=6.30cm, height=3.04cm,
  xmin=0, xmax=12, ymin=0.382, ymax=5.6, xbar, bar width=0.50cm, axis x line=bottom, axis y line=none,
  axis line style={-, line width=0.7pt}, xtick={0,2,4,6,8,10,12}, ytick=\empty, tick align=outside,
  major tick length=0.13cm, tick style={line width=0.7pt, black}, /pgf/number format/assume math mode=true,
  xticklabel style={font=\fs{6.8pt}}, clip=false]
\addplot[fill=navyI, draw=black, line width=0.6pt] coordinates {(10.36,5) (10.04,4) (10.04,3) (9.85,2) (9.83,1)};
\node[anchor=east, inner sep=0pt, font=\fs{8pt}, xshift=-0.28cm] at (axis cs:0,5) {photoreceptor cell cilium};
\node[anchor=east, inner sep=0pt, font=\fs{8pt}, xshift=-0.28cm] at (axis cs:0,4) {cilium};
\node[anchor=east, inner sep=0pt, font=\fs{8pt}, xshift=-0.28cm] at (axis cs:0,3) {9+0 non-motile cilium};
\node[anchor=east, inner sep=0pt, font=\fs{8pt}, xshift=-0.28cm] at (axis cs:0,2) {photoreceptor inner segment};
\node[anchor=east, inner sep=0pt, font=\fs{8pt}, xshift=-0.28cm] at (axis cs:0,1) {photoreceptor outer segment};
\end{axis}

% ================= annotations =================
\begin{scope}[x=0.01cm,y=-0.01cm, every node/.style={inner sep=0pt}]
% panel letters
\node[font=\fs{14pt}\bfseries] at (20,24) {A};
\node[font=\fs{14pt}\bfseries] at (835,24) {B};
\node[font=\fs{14pt}\bfseries] at (1404,24) {C};
\node[font=\fs{14pt}\bfseries] at (22,512) {D};
\node[font=\fs{14pt}\bfseries] at (838,512) {E};
\node[font=\fs{14pt}\bfseries] at (18,1039) {F};
\node[font=\fs{14pt}\bfseries] at (760,1039) {H};
\node[font=\fs{14pt}\bfseries] at (20,1585) {G};
\node[font=\fs{14pt}\bfseries] at (764,1580) {I};
% A
\fill[black!20] (197,36) rectangle (660,88);
\draw[line width=0.75pt] (197,88) -- (660,88);
\node[font=\fs{8.5pt}] at (353,63) {Motif};
\node[font=\fs{8.5pt}] at (582,63) {E-value};
\node[font=\fs{8.5pt}, anchor=west] at (107,185) {Ctrl};
\node[font=\fs{8.5pt}, anchor=west] at (107,325) {RKO};
\node[font=\dejavu\fs{8pt}] at (584,183) {3.4e-015};
\node[font=\dejavu\fs{8pt}] at (584,326) {5.1e-008};
\node[rotate=90, font=\fs{5.5pt}\bfseries] at (198,185) {bits};
\node[rotate=90, font=\fs{5.5pt}\bfseries] at (198,331) {bits};
% B
\node[rotate=90, font=\fs{10pt}] at (883,272) {Peak number};
\draw[fill=cB, line width=0.85pt] (1052,85) rectangle (1093,107);
\draw[fill=uB, line width=0.85pt] (1052,124) rectangle (1093,146);
\node[anchor=west, font=\fs{8.5pt}] at (1117,97) {Common};
\node[anchor=west, font=\fs{8.5pt}] at (1117,135) {Unique};
\node[font=\fs{7.3pt}] at (1088,343) {18715};
\node[font=\fs{7.3pt}] at (1236,343) {18382};
\node[font=\fs{7.3pt}] at (1089,222) {5329};
\node[font=\fs{7.3pt}] at (1236,230) {4023};
% C
\node[rotate=90, font=\fs{9.7pt}] at (1469,272) {Gene number};
\draw[fill=uC, line width=0.85pt] (1574,7) rectangle (1613,26);
\draw[fill=cC, line width=0.85pt] (1574,47) rectangle (1613,66);
\draw[fill=nC, line width=0.85pt] (1574,87) rectangle (1613,106);
\node[anchor=west, font=\fs{8.4pt}] at (1635,16) {Unique m6A genes};
\node[anchor=west, font=\fs{8.4pt}] at (1635,56) {Common m6A genes};
\node[anchor=west, font=\fs{8.4pt}] at (1635,96) {Non-m6A genes};
\node[font=\fs{7.3pt}] at (1668,343) {14080};
\node[font=\fs{7.3pt}] at (1816,343) {14244};
\node[font=\fs{7.3pt}] at (1670,221) {7444};
\node[font=\fs{7.3pt}] at (1816,223) {6983};
\node[font=\fs{7.3pt}] at (1668,146) {1234};
\node[font=\fs{7.3pt}] at (1816,148) {794};
% D
\node[rotate=90, font=\fs{9pt}] at (44,721) {Peak Density};
\draw[red, line width=1.2pt] (144,580) -- (163,580);
\draw[blue, line width=1.2pt] (144,613) -- (163,613);
\node[anchor=west, font=\fs{8.3pt}] at (171,580) {Ctrl};
\node[anchor=west, font=\fs{8.3pt}] at (171,613) {RKO};
% E
\node[rotate=90, font=\fs{9pt}] at (897,766) {Total peak distribution};
\node[font=\fs{9.4pt}] at (1120,575) {Ctrl};
\node[font=\fs{9.4pt}] at (1520,570) {RKO};
\node[font=\fs{9pt}] at (1178,650) {12.2\%};
\node[font=\fs{9pt}] at (1234,757) {23.6\%};
\node[font=\fs{9pt}] at (1203,867) {10.6\%};
\node[font=\fs{9pt}, rotate=-90] at (1140,892) {3.4\%};
\node[font=\fs{9pt}] at (1044,772) {50.3\%};
\node[font=\fs{9pt}] at (1569,645) {11.4\%};
\node[font=\fs{9pt}] at (1632,742) {22\%};
\node[font=\fs{9pt}] at (1614,852) {10.4\%};
\node[font=\fs{9pt}, rotate=-70] at (1560,884) {3.6\%};
\node[font=\fs{9pt}] at (1444,767) {52.6\%};
\draw[fill=pCDS, line width=0.5pt] (1716,641) rectangle (1756,660);
\draw[fill=pFive, line width=0.5pt] (1716,683) rectangle (1756,702);
\draw[fill=pStart, line width=0.5pt] (1716,725) rectangle (1756,744);
\draw[fill=pStop, line width=0.5pt] (1716,768) rectangle (1756,787);
\draw[fill=pThree, line width=0.5pt] (1716,810) rectangle (1756,829);
\node[anchor=west, font=\fs{8.4pt}] at (1779,650) {CDS};
\node[anchor=west, font=\fs{8.4pt}] at (1779,692) {5' UTR};
\node[anchor=west, font=\fs{8.4pt}] at (1779,734) {Start codon};
\node[anchor=west, font=\fs{8.4pt}] at (1779,777) {Stop codon};
\node[anchor=west, font=\fs{8.4pt}] at (1779,819) {3' UTR};
% F
\node[font=\fs{8.7pt}] at (314,1053) {RKO vs Ctrl};
\node[font=\fs{9.2pt}] at (345,1517) {log2(Fold change)};
\node[rotate=90, font=\fs{8.7pt}] at (51,1262) {-log10(p-value)};
\node[anchor=west, font=\fs{7.1pt}] at (538,1185) {P-value<0.05};
\node[anchor=west, font=\fs{7.1pt}] at (538,1216) {|FC|>1.2};
\fill[upc] (567,1264) circle (2.5);
\fill[dnc] (567,1293) circle (2.5);
\fill[ngc] (567,1322) circle (2.2);
\node[anchor=west, font=\fs{7.1pt}] at (582,1264) {Up};
\node[anchor=west, font=\fs{7.1pt}] at (582,1293) {Down};
\node[anchor=west, font=\fs{7.1pt}] at (582,1322) {NotDEGs};
% G
\fill[vY] (150,1892) ellipse[x radius=13, y radius=12];
\fill[vP] (150,1938) ellipse[x radius=13, y radius=12];
\node[anchor=west, font=\fs{8.4pt}] at (174,1892) {m6A down regulated genes};
\node[anchor=west, font=\fs{8.4pt}] at (174,1938) {RNA down regulated genes};
% H
\node[font=\fs{8.8pt}] at (1465,1029) {Pathway Analysis};
\node[font=\fs{8pt}] at (1461,1497) {GeneRatio (SelectionCounts/SelectionSize)};
\draw[red, line width=0.6pt] (971,1072) rectangle (1211,1119);
\node[anchor=west, font=\fs{8pt}] at (1742,1029) {SelectionCounts};
\fill[black!5] (1743,1048) rectangle (1784,1252);
\fill[black] (1764,1069) circle (3.5);
\fill[black] (1764,1108) circle (9.5);
\fill[black] (1764,1149) circle (11.5);
\fill[black] (1764,1191) circle (13);
\fill[black] (1764,1232) circle (17.5);
\node[anchor=west, font=\fs{6pt}] at (1797,1069) {2};
\node[anchor=west, font=\fs{6pt}] at (1797,1108) {3};
\node[anchor=west, font=\fs{6pt}] at (1797,1149) {4};
\node[anchor=west, font=\fs{6pt}] at (1797,1191) {5};
\node[anchor=west, font=\fs{6pt}] at (1797,1232) {10};
\node[anchor=west, font=\fs{7.7pt}] at (1752,1285) {Pvalue};
\shade[shading=pvshade] (1743,1303) rectangle (1783,1506);
\foreach \yy/\lab in {1349/0.009, 1401/0.006, 1453/0.003} {
  \draw[white, line width=0.4pt] (1743,\yy) -- (1751,\yy);
  \draw[white, line width=0.4pt] (1775,\yy) -- (1783,\yy);
  \node[anchor=west, font=\fs{6pt}] at (1796,\yy) {\lab};
}
% I
\node[font=\fs{8.5pt}\bfseries] at (1504,1597) {Cellular component};
\node[font=\fs{7.8pt}] at (1532,1978) {Enrichment Score};
\draw[red, line width=0.6pt] (892,1627) rectangle (1211,1673);
\end{scope}
\pgfresetboundingbox
\useasboundingbox (0,0) rectangle (19.44cm,-19.91cm);
\end{tikzpicture}
\end{document}
